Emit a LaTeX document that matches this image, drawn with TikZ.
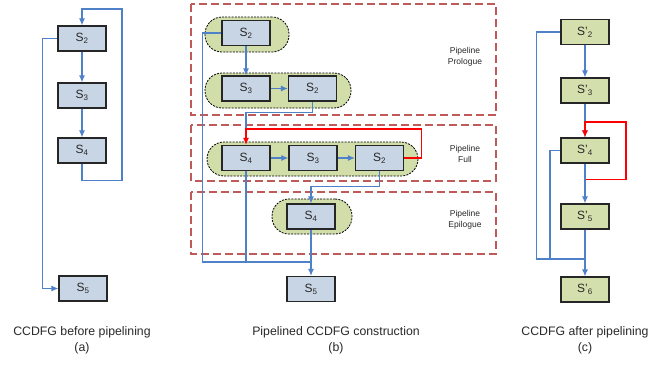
\documentclass[tikz,border=0pt]{standalone}
\usepackage{fontspec}
\setmainfont{Liberation Sans}
\usepackage{tikz}
\usetikzlibrary{arrows.meta}
\definecolor{boxblue}{RGB}{200,213,229}
\definecolor{boxgreen}{RGB}{211,223,172}
\definecolor{pillgreen}{RGB}{209,222,170}
\definecolor{linkblue}{RGB}{79,129,200}
\definecolor{framered}{RGB}{190,90,88}
\definecolor{txtgray}{RGB}{40,40,40}
\newcommand{\arw}{-{Latex[length=7pt,width=6pt]}}
\newcommand{\st}[1]{S\textsubscript{#1}}
\newcommand{\stp}[1]{S'\textsubscript{#1}}

\begin{document}
\begin{tikzpicture}[x=1pt,y=-1pt,
  state/.style={draw=black!85,line width=1.2pt,fill=boxblue,minimum width=48pt,
    minimum height=25pt,inner sep=0pt,text=txtgray,font=\fontsize{12}{14}\selectfont},
  statec/.style={state,fill=boxgreen},
  pill/.style={draw=black,line width=.8pt,dash pattern=on 2pt off 1.2pt,fill=pillgreen,
    rounded corners=17pt,inner sep=0pt},
  frame/.style={draw=framered,line width=1.3pt,dash pattern=on 8pt off 4pt},
  link/.style={draw=linkblue,line width=1.1pt},
  back/.style={draw=red,line width=1.2pt},
  stage/.style={align=center,text=txtgray,font=\fontsize{8.5}{11}\selectfont},
  caption/.style={align=center,text=txtgray,font=\fontsize{12.3}{16.5}\selectfont}]
\useasboundingbox (0,0) rectangle (672,365);

%before pipelining
\node[state] (a2) at (82,38.5) {\st{2}};
\node[state] (a3) at (82,95.5) {\st{3}};
\node[state] (a4) at (82,150.5) {\st{4}};
\node[state] (a5) at (83,288.5) {\st{5}};
\coordinate (la) at (122,9);
\draw[link,\arw] (a2) -- (a3);
\draw[link,\arw] (a3) -- (a4);
\draw[link,\arw] (a4.south) -- ++(0,17) -| (la) -| (a2.north);
\draw[link,\arw] (a2.west) -- ++(-15,0) |- (a5.west);
\node[caption] (capa) at (82,340.5) {CCDFG before pipelining\\(a)};

%pipelined construction
\draw[frame] (191,4) rectangle (496,115);
\draw[frame] (191,125) rectangle (496,181);
\draw[frame] (191,192) rectangle (496,254);
\node[stage] (pro) at (465,57) {Pipeline\\Prologue};
\node[stage] (ful) at (465,153.5) {Pipeline\\Full};
\node[stage] (epi) at (465,219.5) {Pipeline\\Epilogue};
\node[pill,minimum width=84pt,minimum height=35pt] (p1) at (247,34.5) {};
\node[pill,minimum width=146pt,minimum height=35pt] (p2) at (278,90.5) {};
\node[pill,minimum width=211pt,minimum height=34pt] (p3) at (312.5,159) {};
\node[pill,minimum width=80pt,minimum height=35pt] (p4) at (312,216.5) {};
\node[state] (b1) at (246,33) {\st{2}};
\node[state] (b3) at (246,88.5) {\st{3}};
\node[state] (b2) at (312.5,88.5) {\st{2}};
\node[state] (f4) at (246,158) {\st{4}};
\node[state] (f3) at (313,158) {\st{3}};
\node[state] (f2) at (379.5,158) {\st{2}};
\node[state] (e4) at (311,216.5) {\st{4}};
\node[state] (b5) at (311,289) {\st{5}};
\coordinate (jb) at (311,262);
\coordinate (rt) at (246,129);
\draw[link] (b1.west) -- ++(-19,0) |- (jb);
\draw[link] (f4.south) -- (f4.south |- jb);
\draw[link,\arw] (e4.south) -- (b5.north);
\draw[link,\arw] (b1.south) -- (b3.north);
\draw[link,\arw] (b3) -- (b2);
\draw[link] (b2.south) -- ++(0,11) -| (rt);
\draw[back,\arw] (f2.east) -- ++(17,0) |- (rt) -- (f4.north);
\draw[link,\arw] (f4) -- (f3);
\draw[link,\arw] (f3) -- (f2);
\draw[link,\arw] (f2.south) -- ++(0,15) -| (e4.north);
\node[caption] (capb) at (336,340.5) {Pipelined CCDFG construction\\(b)};

%after pipelining
\node[statec] (c2) at (585,32) {\stp{2}};
\node[statec] (c3) at (585,90.5) {\stp{3}};
\node[statec] (c4) at (585,150.5) {\stp{4}};
\node[statec] (c5) at (585,216.5) {\stp{5}};
\node[statec] (c6) at (585,289.5) {\stp{6}};
\coordinate (jc) at (585,259);
\coordinate (jc2) at (550,259);
\coordinate (lc) at (626,122);
\draw[link,\arw] (c2) -- (c3);
\draw[link,\arw] (c3) -- (c4);
\draw[back,\arw] (c4.south) -- ++(0,16) -| (lc) -| (c4.north);
\draw[link,\arw] (c4) -- (c5);
\draw[link,\arw] (c5) -- (c6);
\draw[link] (c2.west) -- ++(-24,0) |- (jc);
\draw[link] (c4.west) -| (jc2);
\node[caption] (capc) at (585,340.5) {CCDFG after pipelining\\(c)};
\end{tikzpicture}
\end{document}
